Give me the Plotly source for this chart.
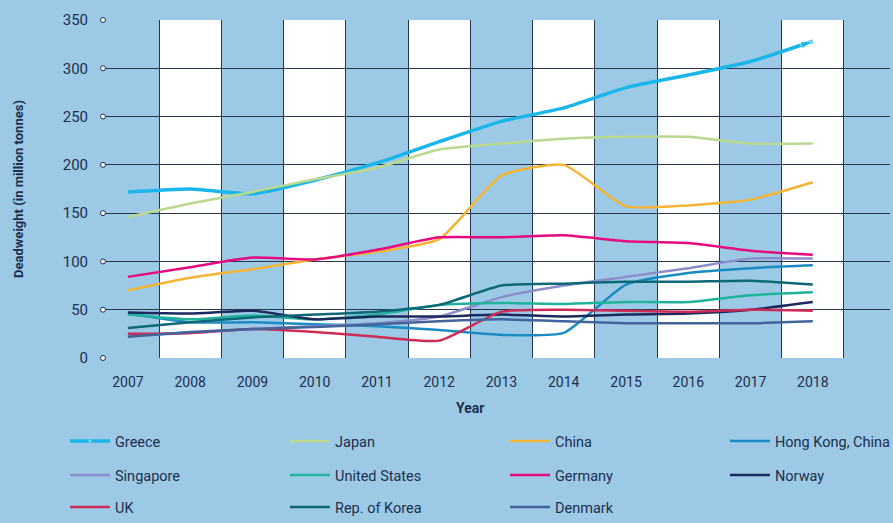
import plotly.graph_objects as go

# Years on the x axis
years = [2007, 2008, 2009, 2010, 2011, 2012, 2013, 2014, 2015, 2016, 2017, 2018]

# Deadweight tonnage by flag (million tonnes)
greece = [172, 175, 170, 184, 202, 224, 245, 259, 280, 293, 307, 328]
japan = [146, 160, 172, 185, 197, 216, 222, 227, 229, 229, 222, 222]
china = [70, 83, 92, 102, 110, 123, 189, 200, 157, 158, 164, 182]
hong_kong = [46, 37, 37, 35, 33, 29, 24, 26, 76, 88, 93, 96]
singapore = [23, 26, 30, 33, 36, 43, 63, 75, 84, 93, 103, 103]
united_states = [45, 40, 44, 40, 45, 55, 57, 56, 58, 58, 65, 68]
germany = [84, 94, 104, 102, 112, 125, 125, 127, 121, 119, 111, 107]
norway = [47, 46, 49, 40, 43, 43, 45, 43, 45, 46, 50, 58]
uk = [25, 26, 30, 27, 22, 18, 48, 50, 49, 48, 50, 49]
korea = [31, 37, 42, 45, 48, 55, 75, 77, 79, 79, 80, 76]
denmark = [22, 27, 30, 32, 35, 38, 40, 38, 36, 36, 36, 38]

y_ticks = [0, 50, 100, 150, 200, 250, 300, 350]

bg = "#9ccae6"
ink = "#1d2f4f"
grid = "#26364c"
font_family = "Roboto, Liberation Sans, sans-serif"

# name, values, colour, width, legend row
series = [
    ("Greece", greece, "#1ab6ea", 3.5, "legend"),
    ("Japan", japan, "#b9da8e", 2.5, "legend"),
    ("China", china, "#f5b433", 2.5, "legend"),
    ("Hong Kong, China", hong_kong, "#1b8cc3", 2.5, "legend"),
    ("Singapore", singapore, "#8b8dcc", 2.5, "legend2"),
    ("United States", united_states, "#1fb39c", 2.5, "legend2"),
    ("Germany", germany, "#e50a80", 2.5, "legend2"),
    ("Norway", norway, "#1b2a5c", 2.5, "legend2"),
    ("UK", uk, "#cc2c55", 2.5, "legend3"),
    ("Rep. of Korea", korea, "#0e6878", 2.5, "legend3"),
    ("Denmark", denmark, "#41649a", 2.5, "legend3"),
]
# last legend column gets a narrower slot so the row fits the page
last_column = ["Hong Kong, China", "Norway"]

fig = go.Figure()

for name, vals, color, width, leg in series:
    if name == "Greece":
        # Greece line ends in an arrow head
        marker = dict(
            symbol=["circle"] * (len(years) - 1) + ["arrow"],
            size=[0] * (len(years) - 1) + [13],
            angleref="previous",
            color=color,
        )
        mode = "lines+markers"
    else:
        marker = None
        mode = "lines"
    fig.add_trace(go.Scatter(
        x=years,
        y=vals,
        name=name,
        mode=mode,
        marker=marker,
        legend=leg,
        legendwidth=110 if name in last_column else None,
        line=dict(color=color, width=width, shape="spline", smoothing=0.5),
        cliponaxis=False,
    ))

# Small open circles at the left end of the horizontal gridlines
x_left = 2006.6
fig.add_trace(go.Scatter(
    x=[x_left] * len(y_ticks),
    y=y_ticks,
    mode="markers",
    marker=dict(symbol="circle", size=5, color="white", line=dict(color=ink, width=1)),
    showlegend=False,
    hoverinfo="skip",
    cliponaxis=False,
))

# White bands on alternate years
for yr in years:
    if yr % 2 == 0:
        fig.add_shape(type="rect", xref="x", yref="y", x0=yr - 0.5, x1=yr + 0.5,
                      y0=0, y1=350, fillcolor="white", line_width=0, layer="below")

fig.add_annotation(x=2012.5, xref="x", y=-0.148, yref="paper", text="<b>Year</b>",
                   showarrow=False, font=dict(family=font_family, size=14, color=ink),
                   yanchor="middle")

legend_style = dict(
    orientation="h",
    x=-0.0483,
    xanchor="left",
    yanchor="middle",
    entrywidth=165,
    entrywidthmode="pixels",
    font=dict(family=font_family, size=14.5, color=ink),
    bgcolor="rgba(0,0,0,0)",
    itemwidth=40,
)

fig.update_layout(
    width=893,
    height=523,
    paper_bgcolor=bg,
    plot_bgcolor=bg,
    margin=dict(l=103, r=3, t=20, b=165, autoexpand=False),
    font=dict(family=font_family, color=ink, size=15),
    xaxis=dict(
        range=[x_left, 2019.24],
        tickvals=years,
        ticktext=[str(y) for y in years],
        showgrid=False,
        zeroline=False,
        showline=False,
        ticks="",
        automargin=False,
        ticklabelstandoff=14,
        tickfont=dict(size=14),
        minor=dict(tickvals=[y + 0.5 for y in years], showgrid=True,
                   gridcolor=grid, gridwidth=1.4, ticks=""),
    ),
    yaxis=dict(
        range=[0, 350],
        tickvals=y_ticks,
        showgrid=True,
        gridcolor=grid,
        gridwidth=1.4,
        zeroline=False,
        showline=False,
        ticks="",
        automargin=False,
        ticklabelstandoff=14,
        tickfont=dict(size=15),
        title=dict(text="<b>Deadweight (in million tonnes)</b>", standoff=36,
                   font=dict(size=13)),
    ),
    legend=dict(legend_style, y=-0.2456),
    legend2=dict(legend_style, y=-0.3462),
    legend3=dict(legend_style, y=-0.4409),
    showlegend=True,
)

# drop the default page margin so the figure sits at the window's corner
fig.write_html("out.html", config={"displayModeBar": False},
               post_script="document.body.style.margin='0';")
